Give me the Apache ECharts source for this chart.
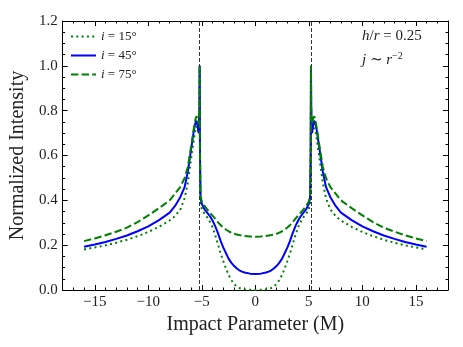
<!DOCTYPE html>
<html>
<head>
<meta charset="utf-8">
<script src="https://cdn.jsdelivr.net/npm/echarts@6/dist/echarts.min.js"></script>
<style>
  html, body { margin: 0; padding: 0; background: #fff; }
  #chart { width: 463px; height: 347px; }
</style>
</head>
<body>
<div id="chart"></div>
<script>
// impact parameter grid (M)
const impact = [
  -16, -15, -14, -13, -12, -11, -10, -9, -8, -7.5, -7, -6.6, -6.3, -6.1, -5.9, -5.75, -5.6, -5.5, -5.4, -5.3,
  -5.22, -5.2, -5.17, -5.12, -5.0, -4.75, -4.5, -4.25, -4, -3.75, -3.5, -3.25, -3, -2.75, -2.5, -2.25, -2,
  -1.75, -1.5, -1.25, -1, -0.5, 0,
  0.5, 1, 1.25, 1.5, 1.75, 2, 2.25, 2.5, 2.75, 3, 3.25, 3.5, 3.75, 4, 4.25, 4.5, 4.75, 5.0, 5.12, 5.17,
  5.2, 5.22, 5.3, 5.4, 5.5, 5.6, 5.75, 5.9, 6.1, 6.3, 6.6, 7, 7.5, 8, 9, 10, 11, 12, 13, 14, 15, 16
];

// i = 15 deg (dotted)
const inc15 = [
  0.181, 0.190, 0.199, 0.211, 0.224, 0.240, 0.259, 0.282, 0.310, 0.330, 0.360, 0.410, 0.480, 0.550, 0.620, 0.670, 0.715, 0.730, 0.725, 0.710,
  0.800, 1.000, 0.580, 0.390, 0.360, 0.340, 0.325, 0.305, 0.280, 0.245, 0.205, 0.165, 0.130, 0.097, 0.068, 0.045, 0.028,
  0.016, 0.009, 0.005, 0.003, 0.001, 0.000,
  0.001, 0.003, 0.005, 0.009, 0.016, 0.028, 0.045, 0.068, 0.097, 0.130, 0.165, 0.205, 0.245, 0.280, 0.305, 0.325, 0.340, 0.360, 0.390, 0.580,
  1.000, 0.800, 0.710, 0.725, 0.730, 0.715, 0.670, 0.620, 0.550, 0.480, 0.410, 0.360, 0.330, 0.310, 0.282, 0.259, 0.240, 0.224, 0.211, 0.199, 0.190, 0.181
];

// i = 45 deg (solid)
const inc45 = [
  0.193, 0.203, 0.214, 0.228, 0.243, 0.262, 0.284, 0.312, 0.345, 0.375, 0.415, 0.460, 0.530, 0.595, 0.660, 0.710, 0.745, 0.755, 0.735, 0.700,
  0.800, 1.000, 0.600, 0.410, 0.385, 0.360, 0.345, 0.330, 0.310, 0.285, 0.255, 0.220, 0.190, 0.165, 0.140, 0.122, 0.108,
  0.097, 0.088, 0.082, 0.078, 0.073, 0.071,
  0.073, 0.078, 0.082, 0.088, 0.097, 0.108, 0.122, 0.140, 0.165, 0.190, 0.220, 0.255, 0.285, 0.310, 0.330, 0.345, 0.360, 0.385, 0.410, 0.600,
  1.000, 0.800, 0.700, 0.735, 0.755, 0.745, 0.710, 0.660, 0.595, 0.530, 0.460, 0.415, 0.375, 0.345, 0.312, 0.284, 0.262, 0.243, 0.228, 0.214, 0.203, 0.193
];

// i = 75 deg (dashed)
const inc75 = [
  0.218, 0.230, 0.244, 0.260, 0.278, 0.303, 0.333, 0.365, 0.400, 0.430, 0.460, 0.500, 0.550, 0.610, 0.670, 0.720, 0.760, 0.775, 0.765, 0.740,
  0.820, 1.000, 0.620, 0.420, 0.395, 0.375, 0.360, 0.345, 0.332, 0.318, 0.303, 0.290, 0.279, 0.270, 0.262, 0.256, 0.251,
  0.248, 0.245, 0.243, 0.241, 0.239, 0.238,
  0.239, 0.241, 0.243, 0.245, 0.248, 0.251, 0.256, 0.262, 0.270, 0.279, 0.290, 0.303, 0.318, 0.332, 0.345, 0.360, 0.375, 0.395, 0.420, 0.620,
  1.000, 0.820, 0.740, 0.765, 0.775, 0.760, 0.720, 0.670, 0.610, 0.550, 0.500, 0.460, 0.430, 0.400, 0.365, 0.333, 0.303, 0.278, 0.260, 0.244, 0.230, 0.218
];

const seriesNames = ['i = 15°', 'i = 45°', 'i = 75°'];
const xMajorTicks = [-15, -10, -5, 0, 5, 10, 15];
const photonRing = [-5.2, 5.2];

const serif = '"Liberation Serif", "DejaVu Serif", serif';
const pair = ys => impact.map((x, k) => [x, ys[k]]);
const minus = v => String(v).replace('-', '\u2212');
const black = { color: '#000', width: 1 };

// x: minor ticks every 1 on one axis, majors + labels on a twin axis
const xMinor = pos => ({
  type: 'value', min: -18, max: 18, interval: 1, position: pos,
  axisLine: { show: true, onZero: false, lineStyle: black },
  axisTick: { show: true, inside: true, length: 2.5, lineStyle: black },
  axisLabel: { show: false },
  splitLine: { show: false }
});
const xMajor = (pos, labels) => ({
  type: 'value', min: -18, max: 18, position: pos,
  axisLine: { show: false, onZero: false },
  axisTick: { show: true, inside: true, length: 5, lineStyle: black, customValues: xMajorTicks },
  axisLabel: labels
    ? { show: true, customValues: xMajorTicks, color: '#222', fontFamily: serif, fontSize: 15, margin: 5, formatter: v => minus(v) }
    : { show: false },
  splitLine: { show: false }
});
const yBase = pos => ({
  type: 'value', min: 0, max: 1.2, interval: 0.2, position: pos,
  axisLine: { show: true, onZero: false, lineStyle: black },
  axisTick: { show: true, inside: true, length: 5, lineStyle: black },
  minorTick: { show: true, splitNumber: 4, length: 2.5, lineStyle: black },
  axisLabel: { show: false },
  splitLine: { show: false }
});

const option = {
  backgroundColor: '#fff',
  animation: false,
  grid: { left: 59, right: 15, top: 21, bottom: 57 },
  xAxis: [
    Object.assign(xMinor('bottom'), {
      name: 'Impact Parameter (M)', nameLocation: 'middle', nameGap: 25,
      nameTextStyle: { fontFamily: serif, fontSize: 20, color: '#222' }
    }),
    xMajor('bottom', true),
    xMinor('top'),
    xMajor('top', false)
  ],
  yAxis: [
    Object.assign(yBase('left'), {
      name: 'Normalized Intensity', nameLocation: 'middle', nameGap: 24,
      nameTextStyle: { fontFamily: serif, fontSize: 20, color: '#222' },
      axisLabel: { show: true, color: '#222', fontFamily: serif, fontSize: 15, margin: 5, formatter: v => v.toFixed(1) }
    }),
    yBase('right')
  ],
  legend: {
    left: 65, top: 25, orient: 'vertical',
    itemWidth: 25, itemHeight: 10, itemGap: 6,
    data: seriesNames,
    itemStyle: { opacity: 0 },
    textStyle: {
      fontFamily: serif, fontSize: 13, color: '#222',
      rich: { i: { fontFamily: serif, fontStyle: 'italic', fontSize: 13, color: '#222' }, t: { fontFamily: serif, fontSize: 13, color: '#222' } }
    },
    formatter: name => '{i|i}{t|' + name.slice(1) + '}'
  },
  graphic: [
    {
      type: 'text', left: 362, top: 29,
      style: {
        text: '{i|h}{t|/}{i|r}{t| = 0.25}',
        rich: {
          i: { fontFamily: serif, fontStyle: 'italic', fontSize: 15, fill: '#222' },
          t: { fontFamily: serif, fontSize: 15, fill: '#222' }
        }
      }
    },
    {
      type: 'text', left: 362, top: 51,
      style: {
        text: '{i|j}{t| \u223C }{i|r}{s|\u22122}',
        rich: {
          i: { fontFamily: serif, fontStyle: 'italic', fontSize: 15, fill: '#222' },
          t: { fontFamily: serif, fontSize: 15, fill: '#222' },
          s: { fontFamily: serif, fontSize: 10, fill: '#222', padding: [0, 0, 9, 0] }
        }
      }
    }
  ],
  series: [
    {
      name: seriesNames[0], type: 'line', data: pair(inc15), showSymbol: false, symbol: 'none', z: 3,
      lineStyle: { color: '#008000', width: 2, type: [2, 3.3] }, itemStyle: { color: '#008000' },
      markLine: {
        silent: true, symbol: 'none', label: { show: false },
        lineStyle: { color: '#333', width: 1, type: [4, 2] },
        data: photonRing.map(x => ({ xAxis: x }))
      }
    },
    {
      name: seriesNames[1], type: 'line', data: pair(inc45), showSymbol: false, symbol: 'none', z: 4,
      lineStyle: { color: '#0000ff', width: 2, type: 'solid' }, itemStyle: { color: '#0000ff' }
    },
    {
      name: seriesNames[2], type: 'line', data: pair(inc75), showSymbol: false, symbol: 'none', z: 5,
      lineStyle: { color: '#008000', width: 2, type: [7.4, 3.2] }, itemStyle: { color: '#008000' }
    }
  ]
};

const chart = echarts.init(document.getElementById('chart'), null, { renderer: 'canvas' });
chart.setOption(option);
</script>
</body>
</html>
